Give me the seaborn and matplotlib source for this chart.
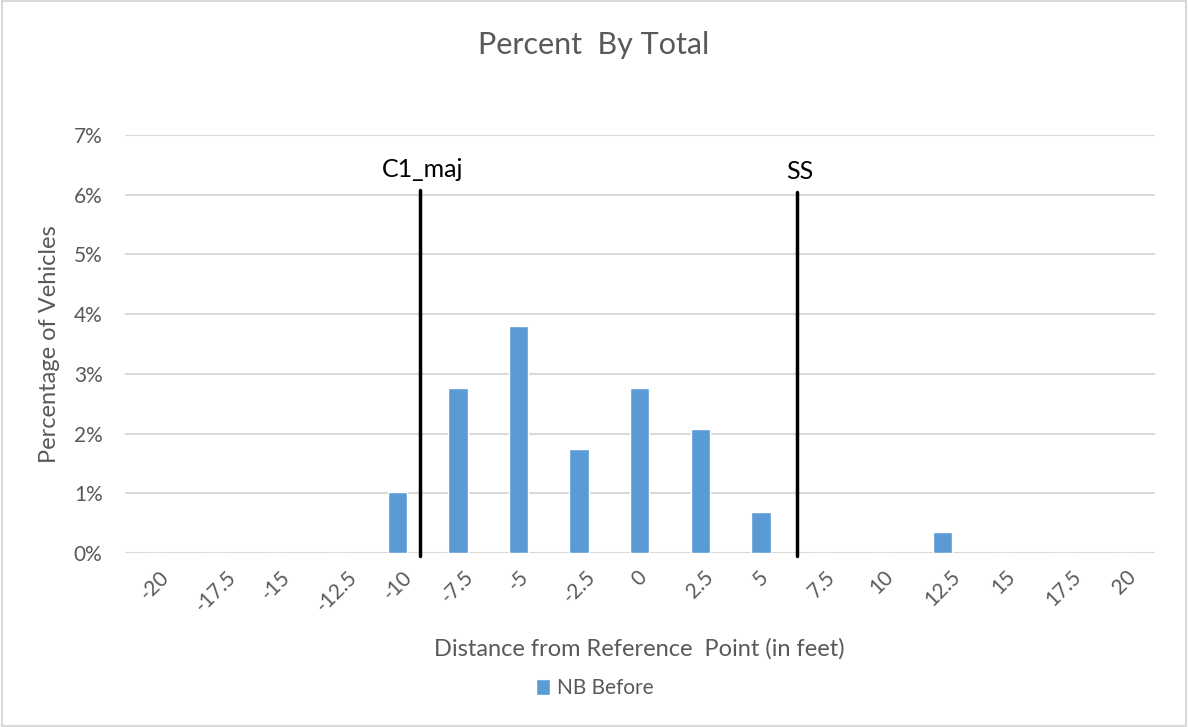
import numpy as np
import pandas as pd
import seaborn as sns
import matplotlib.pyplot as plt
from matplotlib.ticker import PercentFormatter

# Data
distances = ["-20", "-17.5", "-15", "-12.5", "-10", "-7.5", "-5", "-2.5", "0",
             "2.5", "5", "7.5", "10", "12.5", "15", "17.5", "20"]
pct_nb_before = [0, 0, 0, 0, 1.03, 2.77, 3.80, 1.74, 2.77,
                 2.08, 0.69, 0, 0, 0.35, 0, 0, 0]
marker_names = ["C1_maj", "SS"]
marker_feet = [-9.08, 6.48]
marker_top = [6.08, 6.05]

df = pd.DataFrame({"dist": distances, "pct": pct_nb_before})

sns.set_style("white")
plt.rcParams["font.family"] = ["Lato", "DejaVu Sans"]

fig = plt.figure(figsize=(11.88, 7.27), dpi=100)
ax = fig.add_axes([0.105, 0.2393, 0.867, 0.575])

sns.barplot(data=df, x="dist", y="pct", order=distances, color="#5B9BD5",
            width=0.32, saturation=1, label="NB Before", ax=ax)

ax.set_ylim(0, 7)
ax.set_xlim(-0.5, len(distances) - 0.5)
ax.set_yticks(range(0, 8))
ax.yaxis.set_major_formatter(PercentFormatter(decimals=0))
ax.grid(axis="y", color="#D9D9D9", linewidth=1.5)
ax.set_axisbelow(True)
sns.despine(ax=ax, left=True, bottom=True)
ax.tick_params(length=0, labelsize=15, labelcolor="#595959")
ax.tick_params(axis="x", pad=10)
ax.tick_params(axis="y", pad=16)
for lbl in ax.get_xticklabels():
    lbl.set_rotation(45)
    lbl.set_ha("center")

# Reference markers (feet -> category index)
step = 2.5
for name, feet, top in zip(marker_names, marker_feet, marker_top):
    xi = (feet - float(distances[0])) / step
    ax.plot([xi, xi], [-0.05, top], color="black", linewidth=2.5, clip_on=False)
    ax.text(xi + 0.05, top + 0.15, name, ha="center", va="bottom",
            fontsize=18, color="black")

ax.set_xlabel("Distance from Reference  Point (in feet)", fontsize=17,
              color="#595959", labelpad=16)
ax.set_ylabel("Percentage of Vehicles", fontsize=17, color="#595959",
              labelpad=10)
fig.suptitle("Percent  By Total", x=0.5, y=0.957, fontsize=22, color="#595959")

ax.legend(loc="center", bbox_to_anchor=(0.456, -0.323), frameon=False,
          fontsize=15, labelcolor="#595959", handlelength=0.7,
          handleheight=0.8, handletextpad=0.3)

fig.patches.append(plt.Rectangle((0.002, 0.002), 0.996, 0.996,
                                 transform=fig.transFigure, fill=False,
                                 edgecolor="#D9D9D9", linewidth=1.5))

plt.savefig("out.png", dpi=100)
plt.close()
